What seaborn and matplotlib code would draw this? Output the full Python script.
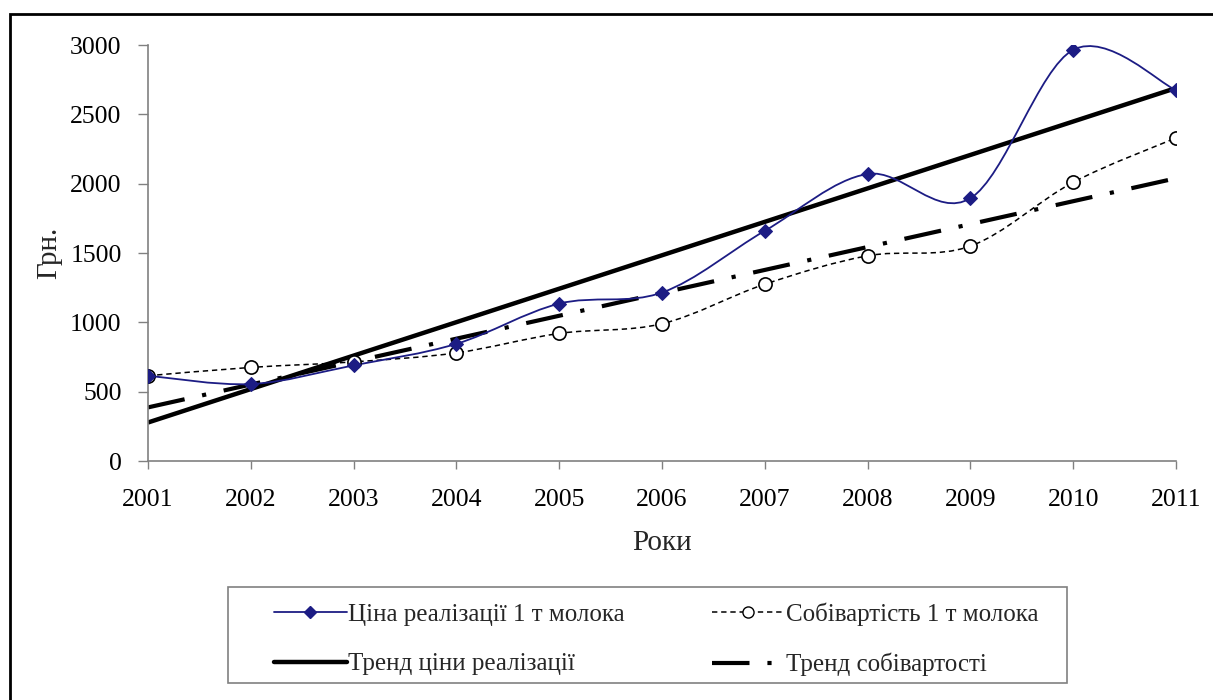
# Milk price vs cost per tonne with linear trends, 2001-2011

import numpy as np
import pandas as pd
import matplotlib.pyplot as plt
from matplotlib.path import Path
from matplotlib.patches import PathPatch, Rectangle
from matplotlib.lines import Line2D
import seaborn as sns

years = [2001, 2002, 2003, 2004, 2005, 2006, 2007, 2008, 2009, 2010, 2011]
price = [615, 555, 690, 845, 1135, 1215, 1660, 2070, 1895, 2965, 2675]
cost = [615, 675, 715, 780, 920, 990, 1275, 1480, 1550, 2010, 2330]

label_price = "Ціна реалізації 1 т молока"
label_cost = "Собівартість 1 т молока"
label_tprice = "Тренд ціни реалізації"
label_tcost = "Тренд собівартості"

df = pd.DataFrame({"year": years, "price": price, "cost": cost})

sns.set_style("white")
plt.rcParams["font.family"] = ["Liberation Serif", "DejaVu Serif"]


def smooth_path(xs, ys):
    # excel-like smoothed line: catmull-rom segments as cubic beziers
    p = np.column_stack([xs, ys]).astype(float)
    pts = np.vstack([p[0], p, p[-1]])
    verts = [p[0]]
    codes = [Path.MOVETO]
    for i in range(1, len(pts) - 2):
        c1 = pts[i] + (pts[i + 1] - pts[i - 1]) / 6
        c2 = pts[i + 1] - (pts[i + 2] - pts[i]) / 6
        verts += [c1, c2, pts[i + 1]]
        codes += [Path.CURVE4] * 3
    return Path(verts, codes)


fig = plt.figure(figsize=(12.13, 7.0), dpi=100)
ax = fig.add_axes([0.122, 0.3414, 0.8475, 0.5943])

navy = "#1c1c84"
cost_dash = (0, (3.5, 2.5))
trend_dash = (9, 4.3, 1, 4.3)

# trend lines
sns.regplot(data=df, x="year", y="price", scatter=False, ci=None, ax=ax,
            line_kws=dict(color="black", lw=3.2, solid_capstyle="butt"))
sns.regplot(data=df, x="year", y="cost", scatter=False, ci=None, ax=ax,
            line_kws=dict(color="black", lw=3.0, dashes=trend_dash,
                          dash_capstyle="butt"))

# smoothed data lines
ax.add_patch(PathPatch(smooth_path(years, cost), fill=False, ec="black",
                       lw=1.1, ls=cost_dash, zorder=3))
ax.add_patch(PathPatch(smooth_path(years, price), fill=False, ec=navy,
                       lw=1.3, zorder=4))

# markers
sns.lineplot(data=df, x="year", y="cost", ax=ax, lw=0, marker="o",
             markersize=9.5, markerfacecolor="white", markeredgecolor="black",
             markeredgewidth=1.2, zorder=5)
sns.lineplot(data=df, x="year", y="price", ax=ax, lw=0, marker="D",
             markersize=7, color=navy, markeredgecolor=navy, zorder=6)

ax.set_xlim(2001, 2011)
ax.set_ylim(0, 3000)
ax.set_xticks(years)
ax.set_yticks(range(0, 3001, 500))
ax.tick_params(axis="both", labelsize=18.5, colors="#808080", labelcolor="black")
ax.tick_params(axis="y", direction="out", length=7, width=1, pad=12, left=True)
ax.tick_params(axis="x", direction="out", length=6, width=1, pad=14, bottom=True)
for side in ["top", "right"]:
    ax.spines[side].set_visible(False)
for side in ["left", "bottom"]:
    ax.spines[side].set_color("#808080")
    ax.spines[side].set_linewidth(1.2)

ax.set_xlabel("Роки", fontsize=21, labelpad=14)
ax.set_ylabel("Грн.", fontsize=21, labelpad=6)

h_price = Line2D([], [], color=navy, lw=1.3, marker="D", markersize=6)
h_cost = Line2D([], [], color="black", lw=1.1, ls=cost_dash, marker="o",
                markersize=8, markerfacecolor="white")
h_tprice = Line2D([], [], color="black", lw=3.2)
h_tcost = Line2D([], [], color="black", lw=3.0, dashes=trend_dash)
# column-major order so rows read: price / cost, then the two trends
handles = [h_price, h_tprice, h_cost, h_tcost]
labels = [label_price, label_tprice, label_cost, label_tcost]
leg = fig.legend(handles, labels, ncol=2, loc="upper left",
                 bbox_to_anchor=(0.226, 0.139), frameon=False, fontsize=18,
                 handlelength=2.9, handletextpad=0.05, borderaxespad=0,
                 borderpad=0, labelspacing=1.07, columnspacing=3.5)

# legend box
fig.patches.append(Rectangle((0.188, 0.024), 0.692, 0.137,
                             transform=fig.transFigure, fill=False,
                             ec="#808080", lw=1.2))

# outer chart border
fig.patches.append(Rectangle((0.0085, -0.02), 1.02, 1.0, transform=fig.transFigure,
                             fill=False, ec="black", lw=2))

fig.savefig("out.png", dpi=100)
